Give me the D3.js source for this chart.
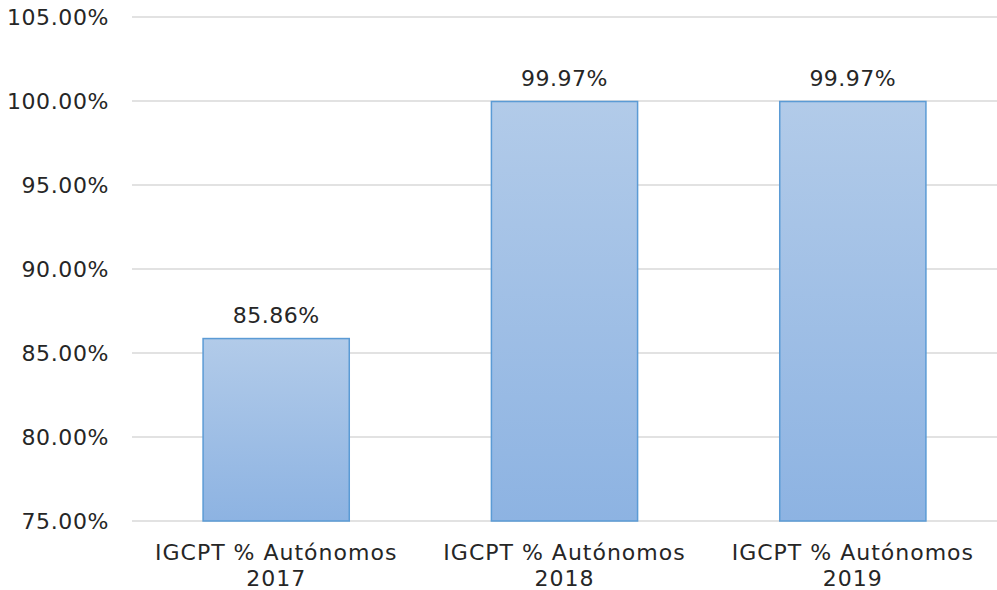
<!DOCTYPE html>
<html lang="es">
<head>
    <meta charset="UTF-8">
    <title>IGCPT % Autónomos</title>
    <script src="https://d3js.org/d3.v7.min.js"></script>
    <style>
        body { margin: 0; background: #fff; }
        text { font-family: Verdana, "DejaVu Sans", sans-serif; fill: #262626; }
        .grid line { stroke: #d9d9d9; stroke-width: 1.5px; }
    </style>
</head>
<body>
<svg width="997" height="590"></svg>
<script>
    // chart data
    var categories = [["IGCPT % Autónomos", "2017"], ["IGCPT % Autónomos", "2018"], ["IGCPT % Autónomos", "2019"]];
    var values = [85.86, 99.97, 99.97];
    var yTicks = [75, 80, 85, 90, 95, 100, 105];

    var margin = {top: 17, right: 0, bottom: 69, left: 132},
        width = 997 - margin.left - margin.right,
        height = 590 - margin.top - margin.bottom;

    var svg = d3.select("svg")
        .append("g")
        .attr("transform", "translate(" + margin.left + "," + margin.top + ")");

    var defs = d3.select("svg").append("defs");
    var grad = defs.append("linearGradient")
        .attr("id", "barFill")
        .attr("x1", 0).attr("y1", 0).attr("x2", 0).attr("y2", 1);
    grad.append("stop").attr("offset", "0%").attr("stop-color", "#b2cbe9");
    grad.append("stop").attr("offset", "100%").attr("stop-color", "#8db3e2");

    var x = d3.scaleBand()
        .domain(d3.range(categories.length))
        .range([0, width])
        .paddingInner(0.493)
        .paddingOuter(0.2465);

    var y = d3.scaleLinear().domain([75, 105]).range([height, 0]);

    // gridlines
    svg.append("g")
        .attr("class", "grid")
        .selectAll("line")
        .data(yTicks)
        .enter().append("line")
        .attr("x1", 0)
        .attr("x2", width)
        .attr("y1", function(d) { return y(d); })
        .attr("y2", function(d) { return y(d); });

    // y tick labels
    svg.append("g")
        .selectAll("text")
        .data(yTicks)
        .enter().append("text")
        .attr("x", -23)
        .attr("y", function(d) { return y(d); })
        .attr("dy", "0.35em")
        .attr("text-anchor", "end")
        .style("font-size", "22px")
        .style("letter-spacing", "0.6px")
        .text(function(d) { return d.toFixed(2) + "%"; });

    // bars
    svg.selectAll(".bar")
        .data(values)
        .enter().append("rect")
        .attr("class", "bar")
        .attr("x", function(d, i) { return x(i); })
        .attr("width", x.bandwidth())
        .attr("y", function(d) { return y(d); })
        .attr("height", function(d) { return height - y(d); })
        .attr("fill", "url(#barFill)")
        .attr("stroke", "#5b9bd5")
        .attr("stroke-width", 1.5);

    // value labels
    svg.selectAll(".val")
        .data(values)
        .enter().append("text")
        .attr("class", "val")
        .attr("x", function(d, i) { return x(i) + x.bandwidth() / 2; })
        .attr("y", function(d) { return y(d) - 23; })
        .attr("dy", "0.35em")
        .attr("text-anchor", "middle")
        .style("font-size", "22px")
        .style("letter-spacing", "0.5px")
        .text(function(d) { return d.toFixed(2) + "%"; });

    // category labels
    var cat = svg.selectAll(".cat")
        .data(categories)
        .enter().append("text")
        .attr("class", "cat")
        .attr("text-anchor", "middle")
        .style("font-size", "22px")
        .style("letter-spacing", "1px")
        .attr("transform", function(d, i) {
            return "translate(" + (x(i) + x.bandwidth() / 2) + "," + (height + 31) + ")";
        });
    cat.selectAll("tspan")
        .data(function(d) { return d; })
        .enter().append("tspan")
        .attr("x", 0)
        .attr("y", function(d, j) { return j * 26; })
        .attr("dy", "0.35em")
        .text(function(d) { return d; });
</script>
</body>
</html>
